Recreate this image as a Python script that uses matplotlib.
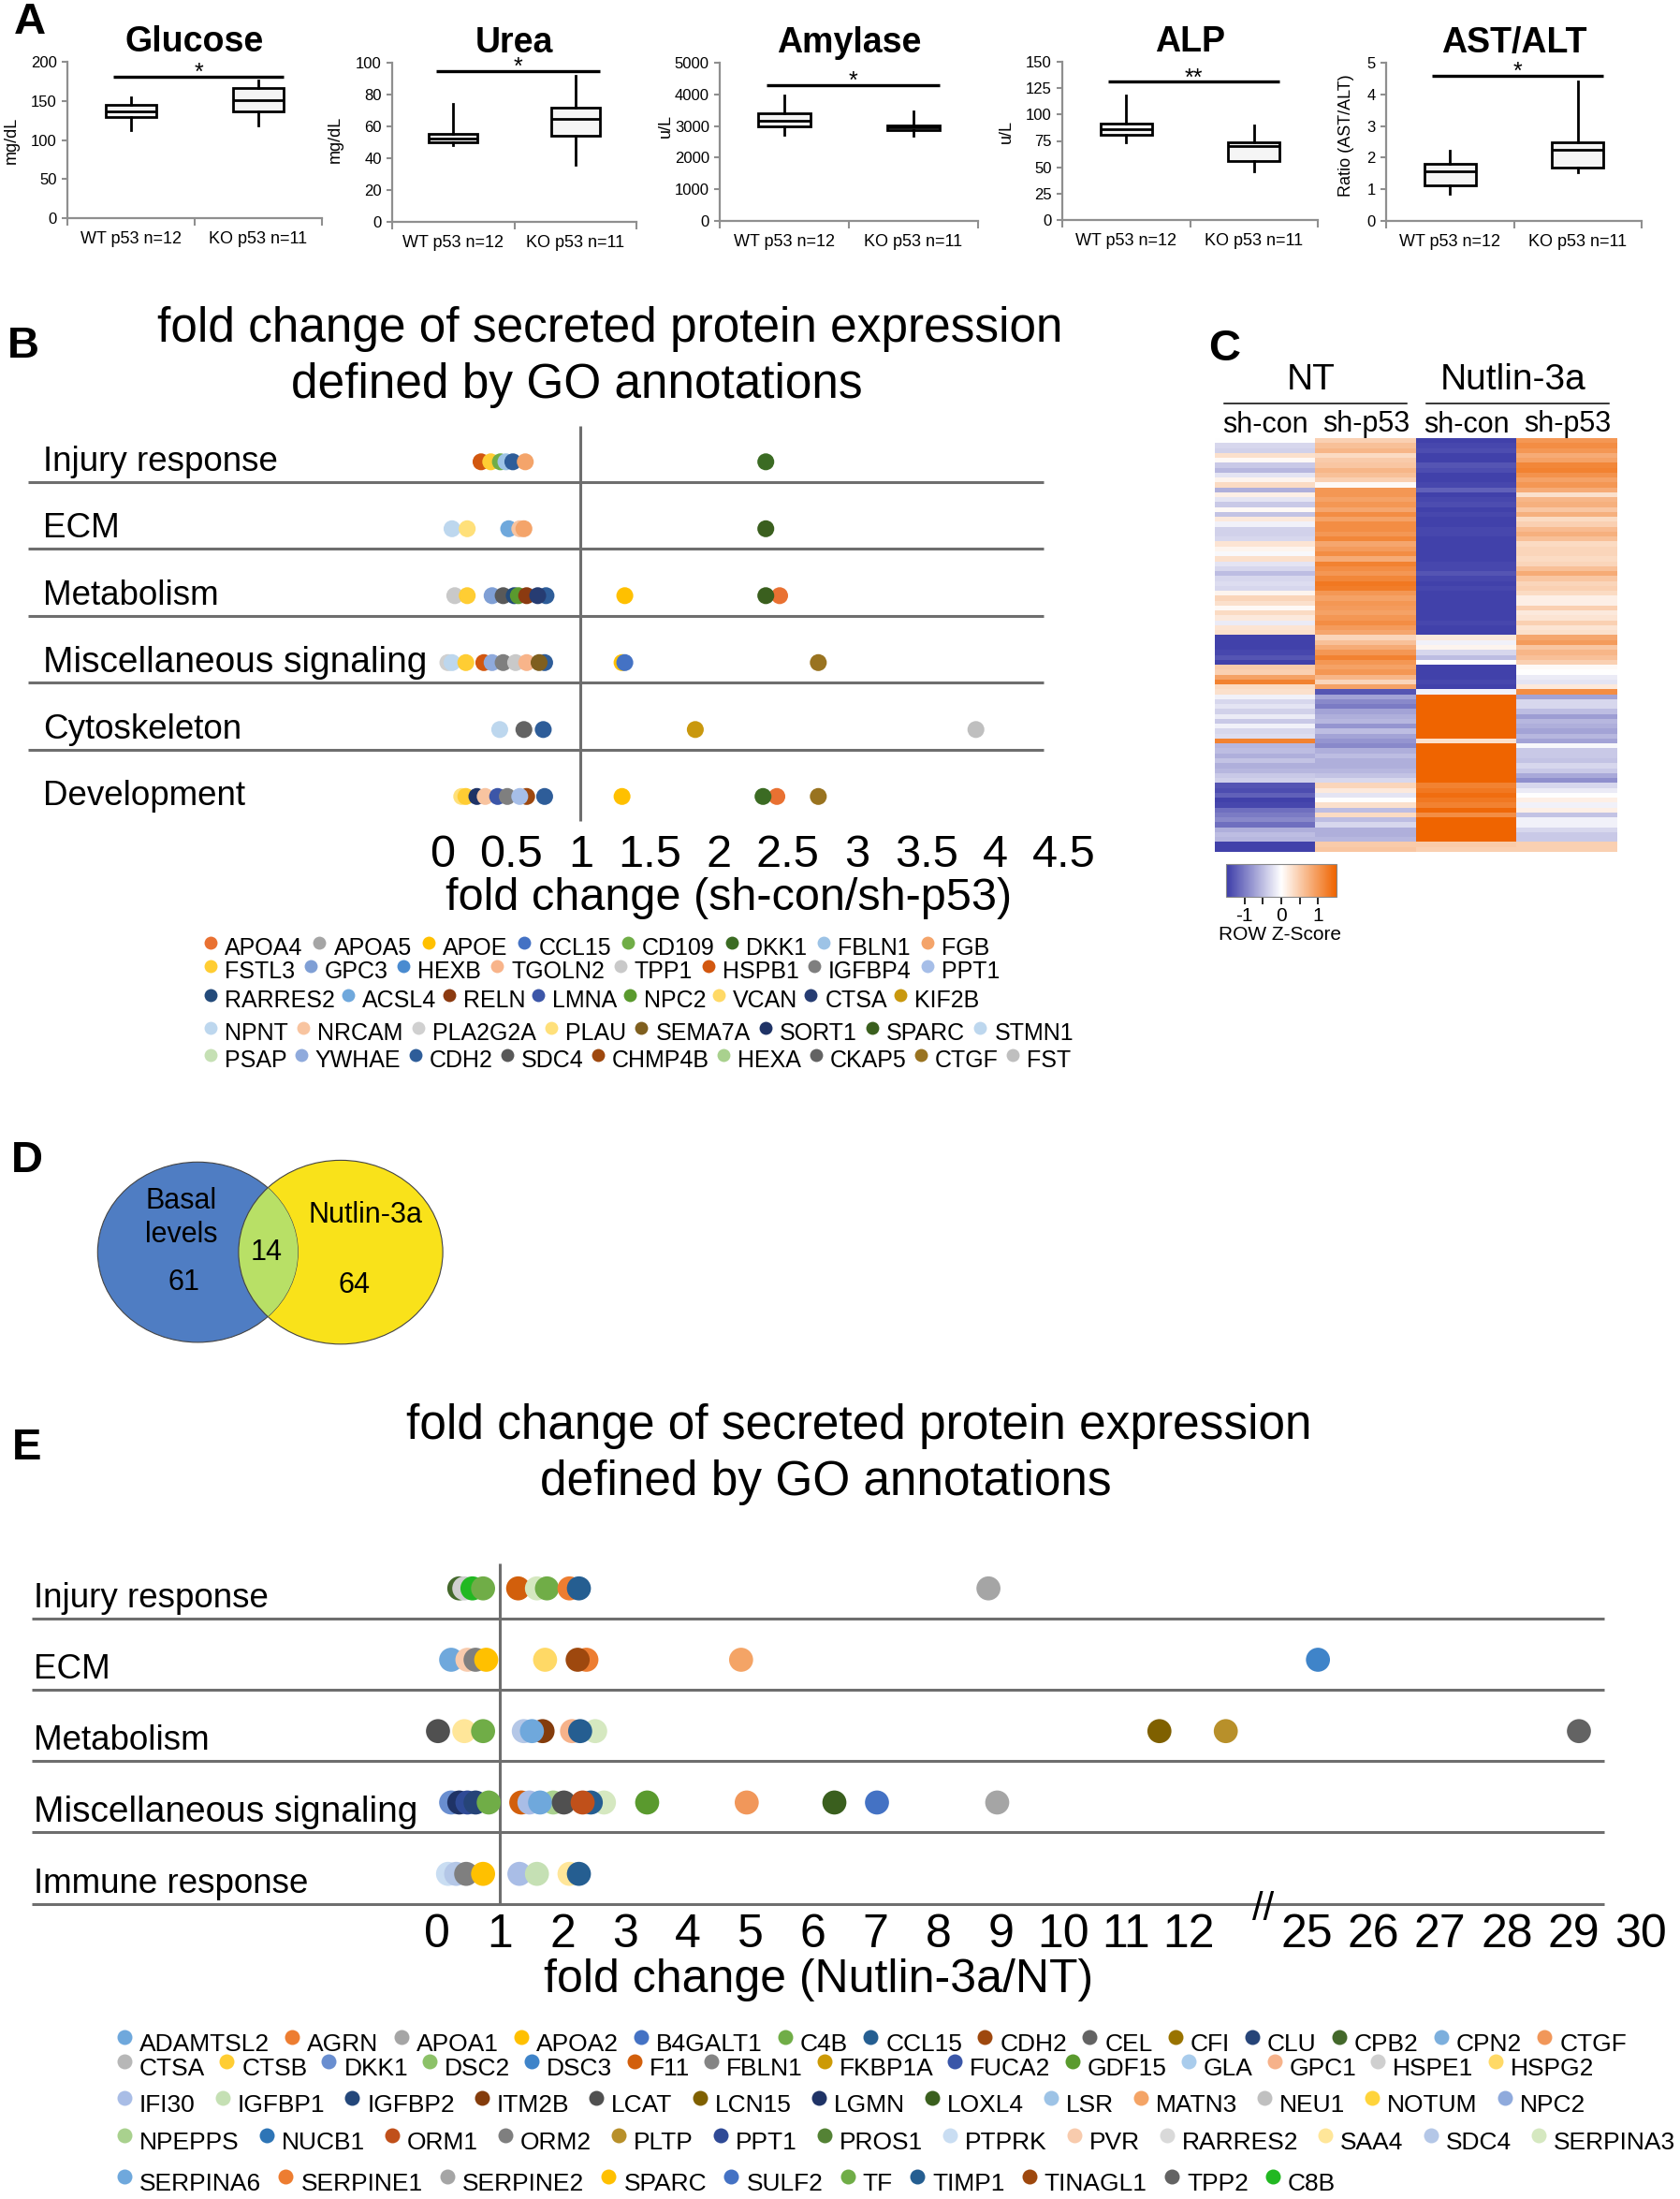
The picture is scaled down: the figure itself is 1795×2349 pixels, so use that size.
import numpy as np
import matplotlib
matplotlib.use("Agg")
import matplotlib.pyplot as plt
import matplotlib.transforms as mtransforms
from matplotlib.colors import LinearSegmentedColormap
from matplotlib.patches import Ellipse
from matplotlib.ticker import NullLocator

plt.rcParams["font.family"] = ["Liberation Sans", "DejaVu Sans"]

# ---------------- A: serum chemistry (box stats) ----------------
A_TESTS = ["Glucose", "Urea", "Amylase", "ALP", "AST/ALT"]
A_UNITS = ["mg/dL", "mg/dL", "u/L", "u/L", "Ratio (AST/ALT)"]
A_GROUPS = ["WT p53 n=12", "KO p53 n=11"]
A_YMAX = [200, 100, 5000, 150, 5]
A_YSTEP = [50, 20, 1000, 25, 1]
A_WT_LO = [112, 48, 2710, 74, 0.85]
A_WT_Q1 = [129, 50, 3000, 81, 1.11]
A_WT_MED = [136, 52.5, 3180, 86.5, 1.57]
A_WT_Q3 = [144.5, 55.3, 3400, 91, 1.80]
A_WT_HI = [154, 74, 3970, 118, 2.22]
A_KO_LO = [119, 36, 2680, 46.5, 1.53]
A_KO_Q1 = [137, 54, 2860, 55.6, 1.70]
A_KO_MED = [151, 64.5, 2950, 70, 2.26]
A_KO_Q3 = [166, 72, 3030, 74, 2.49]
A_KO_HI = [176, 92, 3475, 90, 4.41]
A_SIG_Y = [181, 95, 4300, 131, 4.6]
A_SIG = ["*", "*", "*", "**", "*"]

# ---------------- B: fold change sh-con/sh-p53 ----------------
B_CATS = ["Injury response", "ECM", "Metabolism", "Miscellaneous signaling",
          "Cytoskeleton", "Development"]
B_INJURY = ["HSPB1", "FSTL3", "CD109", "FBLN1", "CDH2", "FGB", "DKK1"]
B_INJURY_FC = [0.28, 0.35, 0.42, 0.46, 0.51, 0.60, 2.34]
B_ECM = ["NPNT", "PLAU", "ACSL4", "NRCAM", "FGB", "SPARC"]
B_ECM_FC = [0.07, 0.18, 0.48, 0.56, 0.59, 2.34]
B_METAB = ["TPP1", "FSTL3", "GPC3", "SDC4", "RARRES2", "NPC2", "RELN", "CDH2", "CTSA",
           "APOE", "APOA4", "SPARC"]
B_METAB_FC = [0.09, 0.18, 0.36, 0.44, 0.52, 0.55, 0.61, 0.75, 0.69, 1.32, 2.44, 2.34]
B_MISC = ["PLA2G2A", "STMN1", "FSTL3", "HSPB1", "YWHAE", "IGFBP4", "TPP1", "TGOLN2",
          "CDH2", "SEMA7A", "APOE", "CCL15", "CTGF"]
B_MISC_FC = [0.04, 0.07, 0.17, 0.30, 0.36, 0.44, 0.53, 0.61, 0.74, 0.70, 1.30, 1.32, 2.72]
B_CYTO = ["STMN1", "CKAP5", "CDH2", "KIF2B", "FST"]
B_CYTO_FC = [0.415, 0.59, 0.73, 1.83, 3.86]
B_DEV = ["PLAU", "FSTL3", "SORT1", "NRCAM", "LMNA", "IGFBP4", "CHMP4B", "PPT1", "CDH2",
         "APOE", "APOA4", "DKK1", "CTGF"]
B_DEV_FC = [0.14, 0.17, 0.25, 0.31, 0.40, 0.47, 0.61, 0.56, 0.74, 1.30, 2.42, 2.32, 2.72]
B_TICKS = [0, 0.5, 1, 1.5, 2, 2.5, 3, 3.5, 4, 4.5]

B_LEG_ROW1 = ["APOA4", "APOA5", "APOE", "CCL15", "CD109", "DKK1", "FBLN1", "FGB"]
B_LEG_ROW2 = ["FSTL3", "GPC3", "HEXB", "TGOLN2", "TPP1", "HSPB1", "IGFBP4", "PPT1"]
B_LEG_ROW3 = ["RARRES2", "ACSL4", "RELN", "LMNA", "NPC2", "VCAN", "CTSA", "KIF2B"]
B_LEG_ROW4 = ["NPNT", "NRCAM", "PLA2G2A", "PLAU", "SEMA7A", "SORT1", "SPARC", "STMN1"]
B_LEG_ROW5 = ["PSAP", "YWHAE", "CDH2", "SDC4", "CHMP4B", "HEXA", "CKAP5", "CTGF", "FST"]

B_COLORS = {
    "APOA4": "#e97132", "APOA5": "#a5a5a5", "APOE": "#ffc000", "CCL15": "#4472c4",
    "CD109": "#70ad47", "DKK1": "#3b6b23", "FBLN1": "#9dc3e6", "FGB": "#f4a46a",
    "FSTL3": "#ffcd33", "GPC3": "#7f9fd5", "HEXB": "#4a8bd0", "TGOLN2": "#f8b48a",
    "TPP1": "#c9c9c9", "HSPB1": "#d2570f", "IGFBP4": "#7f7f7f", "PPT1": "#a6bee8",
    "RARRES2": "#234a7a", "ACSL4": "#6fa8dc", "RELN": "#8b3a10", "LMNA": "#3c56a8",
    "NPC2": "#5a9a2e", "VCAN": "#ffd966", "CTSA": "#263c72", "KIF2B": "#c9980e",
    "NPNT": "#bdd7ee", "NRCAM": "#f8c4a0", "PLA2G2A": "#d0d0d0", "PLAU": "#ffe07a",
    "SEMA7A": "#7f5f1f", "SORT1": "#1f3366", "SPARC": "#3a5f1e", "STMN1": "#bdd7ee",
    "PSAP": "#c5e0b4", "YWHAE": "#8faadc", "CDH2": "#2e5d99", "SDC4": "#595959",
    "CHMP4B": "#9e480e", "HEXA": "#a9d18e", "CKAP5": "#636363", "CTGF": "#997320",
    "FST": "#bfbfbf",
}

# ---------------- C: heatmap, row z-scores ----------------
C_GROUPS = ["NT", "Nutlin-3a"]
C_COLS = ["sh-con", "sh-p53", "sh-con", "sh-p53"]
C_Z = [
    [0.0, 0.45, -1.45, 1.0], [-0.3, 0.6, -1.4, 1.1], [-0.35, 0.7, -1.35, 1.0],
    [0.3, 0.35, -1.45, 0.8], [0.05, 0.5, -1.45, 0.9], [-0.4, 0.55, -1.3, 1.15],
    [-0.55, 0.7, -1.35, 1.2], [-0.2, 0.6, -1.45, 1.05], [0.1, 0.45, -1.45, 0.9],
    [0.35, 0.05, -1.4, 1.0], [-0.6, 1.0, -1.2, 0.8], [0.15, 1.0, -1.45, 0.3],
    [-0.2, 0.9, -1.4, 0.7], [-0.4, 1.0, -1.35, 0.75], [0.05, 0.85, -1.45, 0.55],
    [-0.45, 1.1, -1.4, 0.75], [0.2, 0.9, -1.45, 0.35], [-0.1, 1.1, -1.45, 0.45],
    [-0.35, 1.1, -1.4, 0.65], [-0.35, 1.0, -1.4, 0.75], [-0.3, 1.15, -1.45, 0.6],
    [0.25, 0.85, -1.45, 0.35], [0.1, 0.95, -1.45, 0.4], [-0.05, 1.1, -1.45, 0.4],
    [0.3, 0.8, -1.45, 0.35], [-0.2, 1.2, -1.4, 0.4], [-0.3, 1.1, -1.4, 0.6],
    [-0.5, 1.0, -1.3, 0.8], [-0.3, 1.15, -1.4, 0.55], [-0.25, 1.3, -1.45, 0.4],
    [-0.3, 1.25, -1.4, 0.45], [0.1, 1.0, -1.45, 0.35], [0.4, 0.9, -1.45, 0.15],
    [0.3, 1.0, -1.45, 0.15], [0.05, 0.95, -1.45, 0.45], [0.35, 0.9, -1.45, 0.2],
    [0.2, 1.0, -1.45, 0.25], [-0.15, 1.1, -1.4, 0.45], [0.25, 0.95, -1.45, 0.25],
    [0.3, 0.85, -1.45, 0.3],
    [-1.45, 0.4, 0.2, 0.85], [-1.45, 0.6, -0.1, 0.95], [-1.45, 0.8, 0.1, 0.55],
    [-1.4, 1.0, -0.3, 0.7], [-1.3, 1.2, -0.5, 0.6], [-1.45, 1.0, 0.0, 0.45],
    [0.5, 0.9, -1.45, 0.05], [0.45, 1.0, -1.45, 0.0], [0.9, 0.7, -1.45, -0.15],
    [1.2, 0.4, -1.4, -0.2], [0.35, 0.9, -1.45, 0.2], [0.3, -1.3, -0.1, 1.1],
    [-0.1, -0.7, 1.5, -0.7], [-0.3, -0.9, 1.5, -0.3], [-0.2, -1.0, 1.5, -0.3],
    [-0.35, -0.7, 1.55, -0.5], [-0.15, -0.6, 1.5, -0.75], [-0.4, -0.55, 1.5, -0.55],
    [-0.1, -0.8, 1.5, -0.6], [-0.3, -0.5, 1.5, -0.7], [-0.25, -0.7, 1.5, -0.55],
    [1.2, -0.8, 0.3, -0.7],
    [-0.55, -0.9, 1.5, -0.05], [-0.5, -0.6, 1.5, -0.4], [-0.6, -0.5, 1.5, -0.4],
    [-0.45, -0.6, 1.5, -0.45], [-0.6, -0.6, 1.5, -0.3], [-0.55, -0.55, 1.5, -0.4],
    [-0.4, -0.45, 1.5, -0.65], [-0.35, -0.3, 1.5, -0.85],
    [-1.3, 0.4, 1.2, -0.3], [-1.35, 0.2, 1.3, -0.15], [-1.2, -0.2, 1.4, 0.0],
    [-1.45, 0.0, 1.3, 0.15], [-1.4, 0.3, 1.2, -0.1], [-1.1, -0.5, 1.45, 0.15],
    [-1.0, 0.35, 1.1, -0.45], [-0.9, -0.5, 1.5, -0.1], [-1.1, -0.3, 1.5, -0.1],
    [-0.6, -0.6, 1.5, -0.3], [-0.5, -0.6, 1.5, -0.4], [-0.55, -0.55, 1.5, -0.4],
    [-1.45, 0.5, 0.5, 0.45], [-1.45, 0.55, 0.45, 0.45],
]

# ---------------- D: Venn counts ----------------
D_SETS = ["Basal\nlevels", "Nutlin-3a"]
D_ONLY = [61, 64]
D_SHARED = 14

# ---------------- E: fold change Nutlin-3a/NT ----------------
E_CATS = ["Injury response", "ECM", "Metabolism", "Miscellaneous signaling", "Immune response"]
E_INJURY = ["CPB2", "HSPE1", "C8B", "C4B", "F11", "SERPINA3", "TF", "SERPINE1", "TIMP1", "APOA1"]
E_INJURY_FC = [0.35, 0.43, 0.56, 0.73, 1.29, 1.59, 1.75, 2.11, 2.26, 8.80]
E_ECM = ["SERPINA6", "PVR", "ORM2", "SPARC", "HSPG2", "AGRN", "TINAGL1", "MATN3", "DSC3"]
E_ECM_FC = [0.22, 0.48, 0.61, 0.78, 1.72, 2.38, 2.24, 4.85, 25.17]
E_METAB = ["LCAT", "SAA4", "TF", "ITM2B", "SDC4", "SERPINA6", "GPC1", "SERPINA3", "CCL15",
           "LCN15", "PLTP", "CEL"]
E_METAB_FC = [0.01, 0.43, 0.73, 1.68, 1.38, 1.51, 2.15, 2.52, 2.28, 11.53, 12.59, 29.08]
E_MISC = ["DKK1", "LGMN", "PPT1", "CLU", "C4B", "F11", "IFI30", "NPEPPS", "ADAMTSL2", "LCAT",
          "SERPINA3", "CCL15", "ORM1", "GDF15", "CTGF", "LOXL4", "B4GALT1", "APOA1"]
E_MISC_FC = [0.22, 0.35, 0.48, 0.61, 0.82, 1.34, 1.47, 1.85, 1.64, 2.02, 2.66, 2.45, 2.32,
             3.35, 4.94, 6.34, 7.02, 8.94]
E_IMMUNE = ["PTPRK", "SDC4", "ORM2", "APOA2", "IFI30", "IGFBP1", "SAA4", "TIMP1"]
E_IMMUNE_FC = [0.17, 0.30, 0.46, 0.73, 1.31, 1.59, 2.11, 2.26]
E_TICKS = [0, 1, 2, 3, 4, 5, 6, 7, 8, 9, 10, 11, 12, 25, 26, 27, 28, 29, 30]

E_LEG_ROW1 = ["ADAMTSL2", "AGRN", "APOA1", "APOA2", "B4GALT1", "C4B", "CCL15", "CDH2",
              "CEL", "CFI", "CLU", "CPB2", "CPN2", "CTGF"]
E_LEG_ROW2 = ["CTSA", "CTSB", "DKK1", "DSC2", "DSC3", "F11", "FBLN1", "FKBP1A", "FUCA2",
              "GDF15", "GLA", "GPC1", "HSPE1", "HSPG2"]
E_LEG_ROW3 = ["IFI30", "IGFBP1", "IGFBP2", "ITM2B", "LCAT", "LCN15", "LGMN", "LOXL4", "LSR",
              "MATN3", "NEU1", "NOTUM", "NPC2"]
E_LEG_ROW4 = ["NPEPPS", "NUCB1", "ORM1", "ORM2", "PLTP", "PPT1", "PROS1", "PTPRK", "PVR",
              "RARRES2", "SAA4", "SDC4", "SERPINA3"]
E_LEG_ROW5 = ["SERPINA6", "SERPINE1", "SERPINE2", "SPARC", "SULF2", "TF", "TIMP1",
              "TINAGL1", "TPP2", "C8B"]

E_COLORS = {
    "ADAMTSL2": "#6fa8dc", "AGRN": "#ed7d31", "APOA1": "#a5a5a5", "APOA2": "#ffc000",
    "B4GALT1": "#4472c4", "C4B": "#70ad47", "CCL15": "#255e91", "CDH2": "#9e480e",
    "CEL": "#636363", "CFI": "#997300", "CLU": "#264478", "CPB2": "#43682b",
    "CPN2": "#7cafdd", "CTGF": "#f1975a",
    "CTSA": "#b7b7b7", "CTSB": "#ffcd33", "DKK1": "#698ed0", "DSC2": "#8cc168",
    "DSC3": "#3f84c9", "F11": "#d25f0c", "FBLN1": "#848484", "FKBP1A": "#cc9a06",
    "FUCA2": "#3a56a8", "GDF15": "#5a9a2e", "GLA": "#a9ccec", "GPC1": "#f6b28a",
    "HSPE1": "#cfcfcf", "HSPG2": "#ffd966",
    "IFI30": "#a9bde6", "IGFBP1": "#c5e0b4", "IGFBP2": "#23477a", "ITM2B": "#843c0c",
    "LCAT": "#505050", "LCN15": "#7f6000", "LGMN": "#1f3366", "LOXL4": "#3a5f1e",
    "LSR": "#9dc3e6", "MATN3": "#f4a466", "NEU1": "#c0c0c0", "NOTUM": "#ffd43b",
    "NPC2": "#8faadc",
    "NPEPPS": "#a9d18e", "NUCB1": "#2e75b6", "ORM1": "#c0501a", "ORM2": "#7f7f7f",
    "PLTP": "#b8902a", "PPT1": "#2f4a96", "PROS1": "#548235", "PTPRK": "#c9ddf2",
    "PVR": "#f8cbad", "RARRES2": "#d9d9d9", "SAA4": "#ffe699", "SDC4": "#b4c7e7",
    "SERPINA3": "#d5e8c0",
    "SERPINA6": "#6fa8dc", "SERPINE1": "#ed7d31", "SERPINE2": "#a5a5a5", "SPARC": "#ffc000",
    "SULF2": "#4472c4", "TF": "#70ad47", "TIMP1": "#255e91", "TINAGL1": "#9e480e",
    "TPP2": "#636363", "C8B": "#22b822",
}

# ---------------- figure ----------------
W, H = 1795, 2349
fig = plt.figure(figsize=(W / 100, H / 100), dpi=100)


def px_rect(x0, y0, x1, y1):
    return [x0 / W, 1 - y1 / H, (x1 - x0) / W, (y1 - y0) / H]


GRAY = "#8f8f8f"
LINE = "#6e6e6e"


def cat_size(cat):
    # the long category label is set a touch wider in the original
    return 28 if cat.startswith("Misc") else 26.5


# ---- A ----
A_RECTS = [(72, 66, 344, 233), (419, 67, 680, 237), (769, 67, 1045, 236),
           (1135, 66, 1408, 235), (1481, 67, 1754, 236)]
A_YLAB_XY = [(-0.19, 0.5), (-0.2, 0.52), (-0.178, 0.6), (-0.186, 0.56), (-0.125, 0.54)]
for i, name in enumerate(A_TESTS):
    ax = fig.add_axes(px_rect(*A_RECTS[i]))
    stats = [
        dict(whislo=A_WT_LO[i], q1=A_WT_Q1[i], med=A_WT_MED[i], q3=A_WT_Q3[i], whishi=A_WT_HI[i]),
        dict(whislo=A_KO_LO[i], q1=A_KO_Q1[i], med=A_KO_MED[i], q3=A_KO_Q3[i], whishi=A_KO_HI[i]),
    ]
    ax.bxp(stats, positions=[1, 2], widths=0.4, showcaps=False, showfliers=False,
           patch_artist=True, manage_ticks=False,
           boxprops=dict(facecolor="#f5f5f5", edgecolor="black", linewidth=2.0),
           whiskerprops=dict(color="black", linewidth=2.0),
           medianprops=dict(color="black", linewidth=2.0))
    ax.set_xlim(0.5, 2.5)
    ax.set_ylim(0, A_YMAX[i])
    ax.set_yticks(range(0, A_YMAX[i] + 1, A_YSTEP[i]))
    ax.set_xticks([0.5, 1.5, 2.5], labels=[])
    ax.set_xticks([1, 2], labels=A_GROUPS, minor=True)
    ax.tick_params(axis="x", which="major", length=6, width=1.5, color=GRAY)
    ax.tick_params(axis="x", which="minor", length=0, pad=10, labelsize=13)
    ax.tick_params(axis="y", length=4, width=1.5, color=GRAY, labelsize=12, pad=4)
    for s in ("top", "right"):
        ax.spines[s].set_visible(False)
    for s in ("left", "bottom"):
        ax.spines[s].set_color(GRAY)
        ax.spines[s].set_linewidth(1.6)
    ax.set_ylabel(A_UNITS[i], fontsize=13)
    ax.yaxis.set_label_coords(*A_YLAB_XY[i])
    ax.set_title(name, fontsize=27, fontweight="bold", pad=8)
    ax.plot([0.86, 2.2], [A_SIG_Y[i]] * 2, color="black", lw=2.4,
            solid_capstyle="butt", clip_on=False)
    ax.annotate(A_SIG[i], (1.53, A_SIG_Y[i]), xytext=(0, -6), textcoords="offset points",
                ha="center", va="bottom", fontsize=18, annotation_clip=False)

# ---- B ----
B_ROW0, B_ROWH = 493.3, 71.5
axb = fig.add_axes(px_rect(30, 440, 1174, 880))
axb.set_xlim(-2.997, 4.749)
axb.set_ylim((880 - B_ROW0) / B_ROWH, (440 - B_ROW0) / B_ROWH)
b_genes = [B_INJURY, B_ECM, B_METAB, B_MISC, B_CYTO, B_DEV]
b_fc = [B_INJURY_FC, B_ECM_FC, B_METAB_FC, B_MISC_FC, B_CYTO_FC, B_DEV_FC]
for r, (genes, fcs) in enumerate(zip(b_genes, b_fc)):
    axb.scatter(fcs, [r] * len(fcs), s=13 ** 2, c=[B_COLORS[g] for g in genes],
                linewidths=0, zorder=3)
axb.hlines(np.arange(len(B_CATS) - 1) + 0.3, -2.997, 4.35, color=LINE, lw=2.2)
axb.vlines(1, -0.54, 5.36, color=LINE, lw=2.2)
tb = mtransforms.blended_transform_factory(axb.transAxes, axb.transData)
for r, cat in enumerate(B_CATS):
    axb.text(0.014, r, cat, transform=tb, fontsize=cat_size(cat), va="center", ha="left")
axb.set_xticks(B_TICKS, labels=[f"{t:g}" for t in B_TICKS])
axb.set_yticks([])
axb.tick_params(axis="x", length=0, labelsize=35, pad=8)
for s in axb.spines.values():
    s.set_visible(False)
axb.patch.set_visible(False)

# ---- C ----
C_X0, C_X1, C_Y0, C_Y1 = 1298.3, 1728.3, 467.8, 909.8
axc = fig.add_axes(px_rect(C_X0, C_Y0, C_X1, C_Y1))
zcmap = LinearSegmentedColormap.from_list("zs", ["#3b3ba8", "#ffffff", "#ef6400"])
im = axc.imshow(np.array(C_Z), aspect="auto", cmap=zcmap, vmin=-1.5, vmax=1.5,
                interpolation="nearest")
axc.axis("off")
cax = fig.add_axes(px_rect(1310, 923, 1428, 957.6))
cb = fig.colorbar(im, cax=cax, orientation="horizontal", ticks=[-1, -0.5, 0, 0.5, 1])
cb.ax.set_xticklabels(["-1", "", "0", "", "1"])
cb.ax.tick_params(length=6, width=1.2, labelsize=15, pad=2)
cb.outline.set_edgecolor("#888888")

# ---- E ----
E_KV = [-10.0, 12.9, 24.3, 35.0]
E_KP = [-669.0, 863.0, 878.7, 1641.6]


def e_fwd(v):
    return np.interp(v, E_KV, E_KP)


def e_inv(p):
    return np.interp(p, E_KP, E_KV)


axe = fig.add_axes(px_rect(34.4, 1654.8, 1774, 2036))
axe.set_xscale("function", functions=(e_fwd, e_inv))
axe.set_xlim(-6.47, 30.3)
axe.set_ylim(4.45, -0.55)
e_genes = [E_INJURY, E_ECM, E_METAB, E_MISC, E_IMMUNE]
e_fc = [E_INJURY_FC, E_ECM_FC, E_METAB_FC, E_MISC_FC, E_IMMUNE_FC]
for r, (genes, fcs) in enumerate(zip(e_genes, e_fc)):
    axe.scatter(fcs, [r] * len(fcs), s=18.5 ** 2, c=[E_COLORS[g] for g in genes],
                linewidths=0, zorder=3)
axe.hlines(np.arange(len(E_CATS)) + 0.42, -6.47, 29.46, color=LINE, lw=2.2)
axe.vlines(1, -0.35, 4.42, color=LINE, lw=2.2)
te = mtransforms.blended_transform_factory(axe.transAxes, axe.transData)
for r, cat in enumerate(E_CATS):
    axe.text(0.001, r + 0.14, cat, transform=te, fontsize=cat_size(cat), va="center", ha="left")
axe.set_xticks(E_TICKS, labels=[str(t) for t in E_TICKS])
axe.xaxis.set_minor_locator(NullLocator())
axe.set_yticks([])
axe.tick_params(axis="x", length=0, labelsize=36, pad=6)
for s in axe.spines.values():
    s.set_visible(False)
axe.patch.set_visible(False)

# ---- overlay in pixel coordinates: texts, Venn, legends ----
ov = fig.add_axes([0, 0, 1, 1])
ov.set_xlim(0, W)
ov.set_ylim(H, 0)
ov.axis("off")
ov.patch.set_visible(False)

for letter, (lx, ly) in zip("ABCDE", [(32, 24), (25, 370), (1308.5, 373), (29, 1240), (28.5, 1547)]):
    ov.text(lx, ly, letter, fontsize=34, fontweight="bold", ha="center", va="center")

# B / E titles and axis labels
ov.text(652, 352, "fold change of secreted protein expression", fontsize=37, ha="center", va="center")
ov.text(616, 412, "defined by GO annotations", fontsize=37, ha="center", va="center")
ov.text(779, 959, "fold change (sh-con/sh-p53)", fontsize=35, ha="center", va="center")
ov.text(918, 1523.5, "fold change of secreted protein expression", fontsize=37, ha="center", va="center")
ov.text(882, 1583.5, "defined by GO annotations", fontsize=37, ha="center", va="center")
ov.text(875, 2115, "fold change (Nutlin-3a/NT)", fontsize=36, ha="center", va="center")
ov.text(1350, 2040, "//", fontsize=30, ha="center", va="center")

# C headers
col_w = (C_X1 - C_X0) / len(C_COLS)
for j, lab in enumerate(C_COLS):
    ov.text(C_X0 + (j + 0.5) * col_w, 453.5, lab, fontsize=22, ha="center", va="center")
for g, (gx0, gx1) in zip(C_GROUPS, [(1307.7, 1503.3), (1524.3, 1719.3)]):
    ov.text((gx0 + gx1) / 2 - 5, 406.5, g, fontsize=28, ha="center", va="center")
    ov.plot([gx0, gx1], [431, 431], color="black", lw=1.1)
ov.text(1368, 998, "ROW Z-Score", fontsize=15, ha="center", va="center")

# D Venn (radius from set size)
k = 107.0 / np.sqrt(D_ONLY[0] + D_SHARED)
ra = k * np.sqrt(D_ONLY[0] + D_SHARED)
rb = k * np.sqrt(D_ONLY[1] + D_SHARED)
ca, cbx, cy = 211.3, 364.0, 1337.6
ea = Ellipse((ca, cy), 2 * ra, 1.8 * ra, facecolor="#4f7dc3", edgecolor="#444444", lw=0.8, zorder=2)
eb = Ellipse((cbx, cy), 2 * rb, 1.8 * rb, facecolor="#f9e21a", edgecolor="#444444", lw=0.8, zorder=1)
ov.add_patch(eb)
ov.add_patch(ea)
lens = Ellipse((cbx, cy), 2 * rb, 1.8 * rb, facecolor="#b8e066", edgecolor="#444444", lw=0.8, zorder=3)
ov.add_patch(lens)
lens.set_clip_path(ea)
ov.text(193.3, 1301, D_SETS[0], fontsize=22, ha="center", va="center", linespacing=1.25, zorder=5)
ov.text(196.7, 1370, str(D_ONLY[0]), fontsize=22, ha="center", va="center", zorder=5)
ov.text(285, 1338, str(D_SHARED), fontsize=22, ha="center", va="center", zorder=5)
ov.text(390, 1298, D_SETS[1], fontsize=22, ha="center", va="center", zorder=5)
ov.text(378.3, 1373.3, str(D_ONLY[1]), fontsize=22, ha="center", va="center", zorder=5)


def flow_legend(rows, colors, ys, x0, x_ends, fs, ms, dy, gap_txt):
    rend = fig.canvas.get_renderer()
    all_texts, all_w = [], []
    for names, y in zip(rows, ys):
        ts = [ov.text(0, y, n, fontsize=fs, ha="left", va="center") for n in names]
        all_texts.append(ts)
        all_w.append([t.get_window_extent(rend).width for t in ts])
    gaps = []
    for ws, xe in zip(all_w, x_ends):
        if xe is not None:
            content = sum(gap_txt + w for w in ws)
            gaps.append((xe - x0 - content) / (len(ws) - 1))
    mean_gap = float(np.mean(gaps))
    for names, ts, ws, y, xe in zip(rows, all_texts, all_w, ys, x_ends):
        if xe is not None:
            g = (xe - x0 - sum(gap_txt + w for w in ws)) / (len(ws) - 1)
        else:
            g = mean_gap
        x = x0
        for n, t, w in zip(names, ts, ws):
            ov.plot(x, y - dy, "o", ms=ms, color=colors[n], mec="none")
            t.set_x(x + gap_txt)
            x += gap_txt + w + g


flow_legend([B_LEG_ROW1, B_LEG_ROW2, B_LEG_ROW3, B_LEG_ROW4, B_LEG_ROW5], B_COLORS,
            [1013, 1038, 1069, 1104, 1133], 225, [1057, 1068, 1046, 1147, 1144],
            18, 10, 6, 15)
flow_legend([E_LEG_ROW1, E_LEG_ROW2, E_LEG_ROW3, E_LEG_ROW4, E_LEG_ROW5], E_COLORS,
            [2184, 2210, 2249, 2289, 2333], 133, [1738, 1703, 1694, 1790, None],
            19, 11.5, 8, 16)

fig.savefig("out.png", dpi=100)
